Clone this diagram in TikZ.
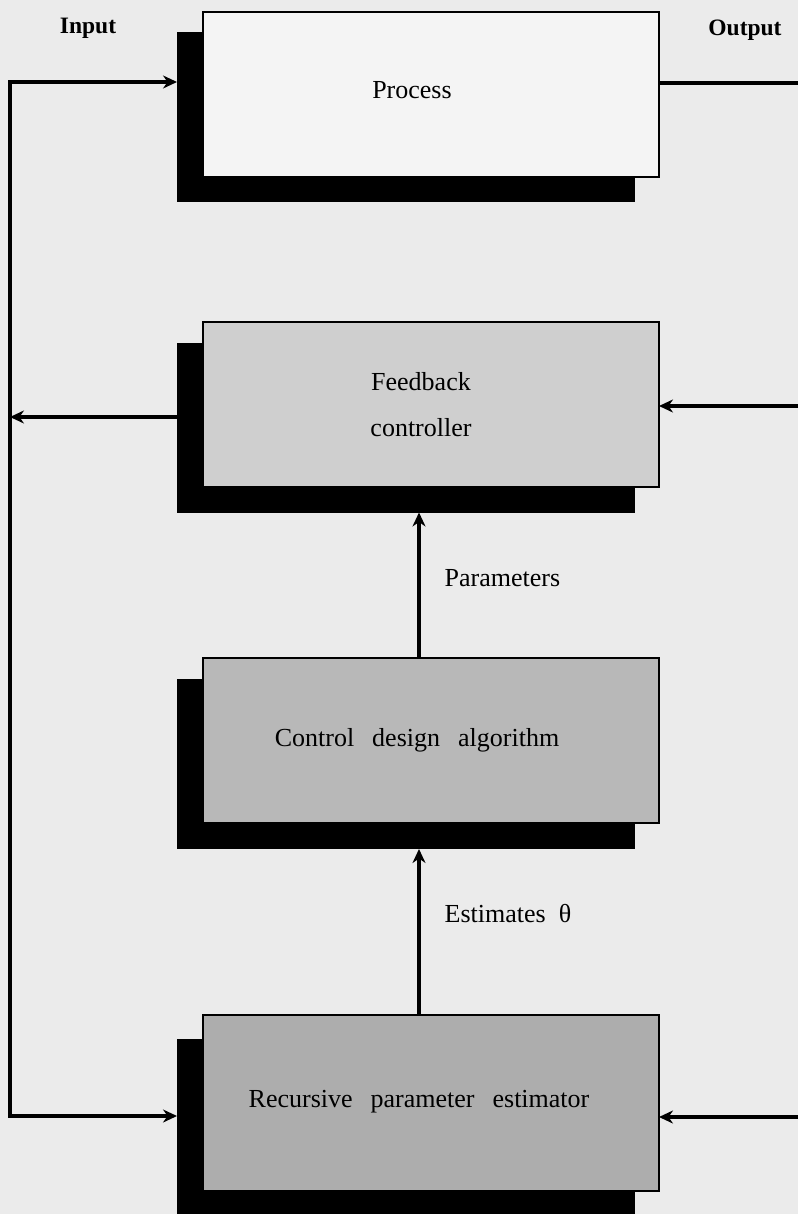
\documentclass[tikz,border=0pt]{standalone}
\usepackage{fontspec}
\setmainfont{Liberation Serif}
\usetikzlibrary{arrows.meta,calc,backgrounds}

\definecolor{paper}{HTML}{EBEBEB}
\definecolor{procfill}{HTML}{F4F4F4}
\definecolor{ctrlfill}{HTML}{CFCFCF}
\definecolor{designfill}{HTML}{B8B8B8}
\definecolor{estfill}{HTML}{ADADAD}

\newcommand{\widewords}[1]{\spaceskip=#1\relax}

\tikzset{
  blockbox/.style={draw=black, line width=2.6pt, minimum width=456pt,
    minimum height=165pt, inner sep=0pt, outer sep=0pt},
  shadowbox/.style={fill=black, draw=none, minimum width=458pt,
    minimum height=170pt, inner sep=0pt, outer sep=0pt},
  boxtext/.style={font=\fontsize{26}{46}\selectfont,
    execute at begin node={\widewords{18pt}},
    align=center, inner sep=0pt},
  sidetext/.style={font=\fontsize{23.5}{28}\selectfont\bfseries, inner sep=0pt},
  arrowtext/.style={font=\fontsize{26}{30}\selectfont,
    execute at begin node={\widewords{13pt}},
    inner sep=0pt, anchor=west},
  flow/.style={line width=3.4pt, -{Stealth[length=14pt,width=13pt]}},
  wire/.style={line width=3.4pt}
}

\begin{document}
\begin{tikzpicture}[x=1pt,y=-1pt]
  \useasboundingbox (0,0) rectangle (798,1214);
  \clip (0,0) rectangle (798,1214);
  \fill[paper] (0,0) rectangle (798,1214);

  % drop shadows behind the blocks
  \node[shadowbox] (procS)   at (406,117.5) {};
  \node[shadowbox] (ctrlS)   at (406,427.5) {};
  \node[shadowbox] (designS) at (406,764)   {};
  \node[shadowbox, minimum height=190pt] (estS) at (406,1134) {};

  % blocks
  \node[blockbox, fill=procfill] (proc) at (431,94.5) {};
  \node[boxtext] (procT) at (412,90) {Process};

  \node[blockbox, fill=ctrlfill] (ctrl) at (431,404.5) {};
  \node[boxtext] (ctrlT) at (421,405) {Feedback\\controller};

  \node[blockbox, fill=designfill] (design) at (431,740.5) {};
  \node[boxtext] (designT) at (417,740) {Control design algorithm};

  \node[blockbox, fill=estfill, minimum height=176pt] (est) at (431,1103) {};
  \node[boxtext] (estT) at (419,1102) {Recursive parameter estimator};

  % side labels
  \node[sidetext] (inT)  at (88,28)  {Input};
  \node[sidetext] (outT) at (745,30) {Output};

  % reference points for the wiring
  \coordinate (inTop)  at (10,82);
  \coordinate (inBot)  at (10,1116);
  \coordinate (uLeft)  at (10,417);
  \coordinate (outR)   at (798,83);
  \coordinate (yR1)    at (798,406);
  \coordinate (yR2)    at (798,1117);
  \coordinate (midX)   at (419,0);

  % input bus on the left
  \draw[wire, line cap=rect] (inTop) -- (inBot);
  \draw[flow] (inTop) -- (inTop -| procS.west);
  \draw[flow] (inBot) -- (inBot -| estS.west);
  \draw[flow] (uLeft -| ctrlS.west) -- (uLeft);

  % output side
  \draw[wire] (outR -| proc.east) -- (outR);
  \draw[flow] (yR1) -- (yR1 -| ctrl.east);
  \draw[flow] (yR2) -- (yR2 -| est.east);

  % internal signal path
  \draw[flow] (design.north -| midX) -- (ctrlS.south -| midX)
    node[arrowtext, pos=0.55, xshift=24pt] (parT) {Parameters};
  \draw[flow] (est.north -| midX) -- (designS.south -| midX)
    node[arrowtext, pos=0.61, xshift=24pt] (thT) {Estimates θ};
\end{tikzpicture}
\end{document}
